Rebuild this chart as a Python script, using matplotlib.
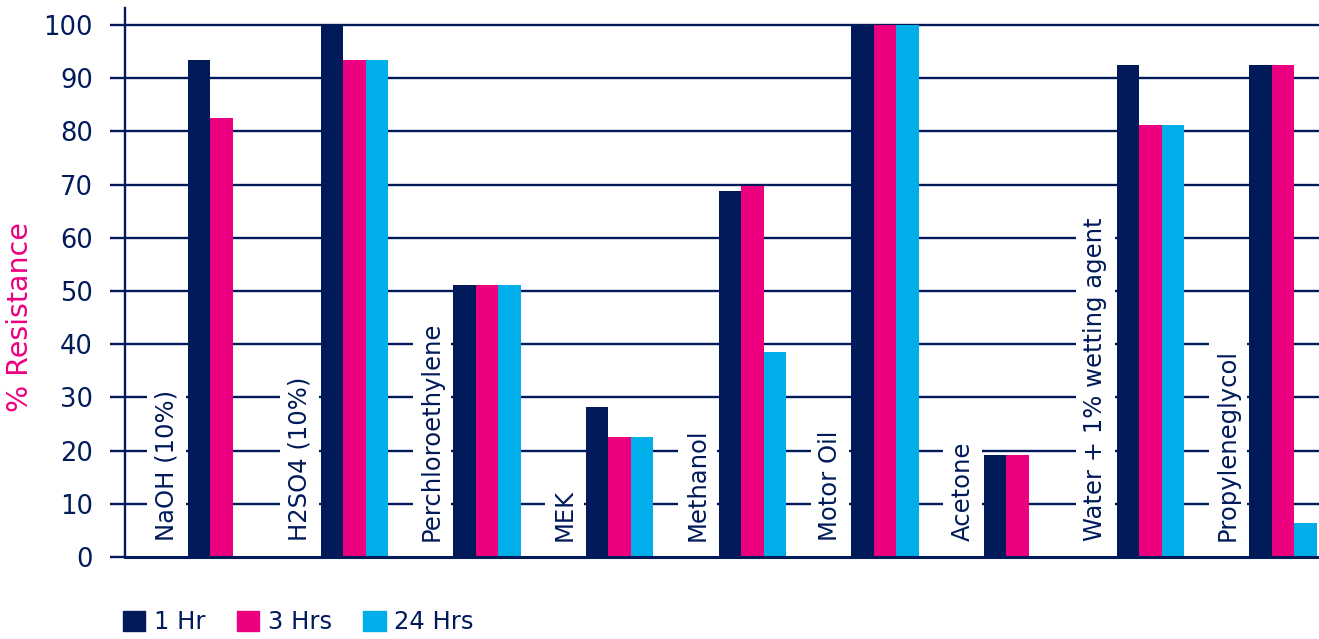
import numpy as np
import matplotlib
matplotlib.use('Agg')
import matplotlib.pyplot as plt
from matplotlib.patches import Patch

# data
categories = ['NaOH (10%)', 'H2SO4 (10%)', 'Perchloroethylene', 'MEK', 'Methanol',
              'Motor Oil', 'Acetone', 'Water + 1% wetting agent', 'Propyleneglycol']
series_names = ['1 Hr', '3 Hrs', '24 Hrs']
hr1 = [93.5, 100, 51.2, 28.2, 68.8, 100, 19.2, 92.4, 92.4]
hr3 = [82.6, 93.5, 51.2, 22.6, 69.7, 100, 19.2, 81.3, 92.4]
hr24 = [0, 93.5, 51.2, 22.6, 38.6, 100, 0, 81.3, 6.3]
yticks = list(range(0, 101, 10))

NAVY = '#001a5a'
MAGENTA = '#ec0080'
CYAN = '#00aeea'
colors = [NAVY, MAGENTA, CYAN]

plt.rcParams['font.family'] = ['DejaVu Sans']
plt.rcParams['text.color'] = NAVY


def main():
    fig = plt.figure(figsize=(13.19, 6.39), dpi=100)
    ax = fig.add_axes([125 / 1319, 1 - 557 / 639, 1 - 125 / 1319, 549 / 639])

    x = np.arange(len(categories))
    width = 0.169
    start = 0.475
    for k, (vals, name) in enumerate(zip([hr1, hr3, hr24], series_names)):
        ax.bar(x + start + width * (k + 0.5), vals, width, color=colors[k],
               label=name, zorder=3, linewidth=0)

    for i, cat in enumerate(categories):
        ax.text(i + start - 0.16, 3.0, cat, rotation=90, ha='center', va='bottom',
                fontsize=17.5, color=NAVY, zorder=2,
                bbox=dict(boxstyle='square,pad=0.3', fc='white', ec='none'))

    ax.set_xlim(0, 9)
    ax.set_ylim(0, 103.2)
    ax.set_xticks([])
    ax.set_yticks(yticks)
    ax.set_yticklabels([str(t) for t in yticks], fontsize=18.5, color=NAVY)
    ax.tick_params(axis='y', length=11, width=1.7, color=NAVY, pad=12)

    for t in yticks[1:]:
        ax.axhline(t, color=NAVY, linewidth=1.7, zorder=1)

    ax.spines['top'].set_visible(False)
    ax.spines['right'].set_visible(False)
    ax.spines['left'].set_color(NAVY)
    ax.spines['left'].set_linewidth(1.7)
    ax.spines['bottom'].set_color(NAVY)
    ax.spines['bottom'].set_linewidth(2.2)
    ax.spines['bottom'].set_zorder(4)

    ax.set_ylabel('% Resistance', fontsize=20.5, color=MAGENTA)
    ax.yaxis.set_label_coords(-0.076, 0.437)

    handles = [Patch(color=c, label=n) for c, n in zip(colors, series_names)]
    fig.legend(handles=handles, loc='center left', bbox_to_anchor=(0.093, 0.026),
               ncol=3, frameon=False, fontsize=17.5, handlelength=0.92,
               handleheight=0.92, handletextpad=0.35, columnspacing=1.3,
               labelcolor=NAVY, borderaxespad=0, borderpad=0)

    fig.savefig('out.png', dpi=100)


if __name__ == '__main__':
    main()
